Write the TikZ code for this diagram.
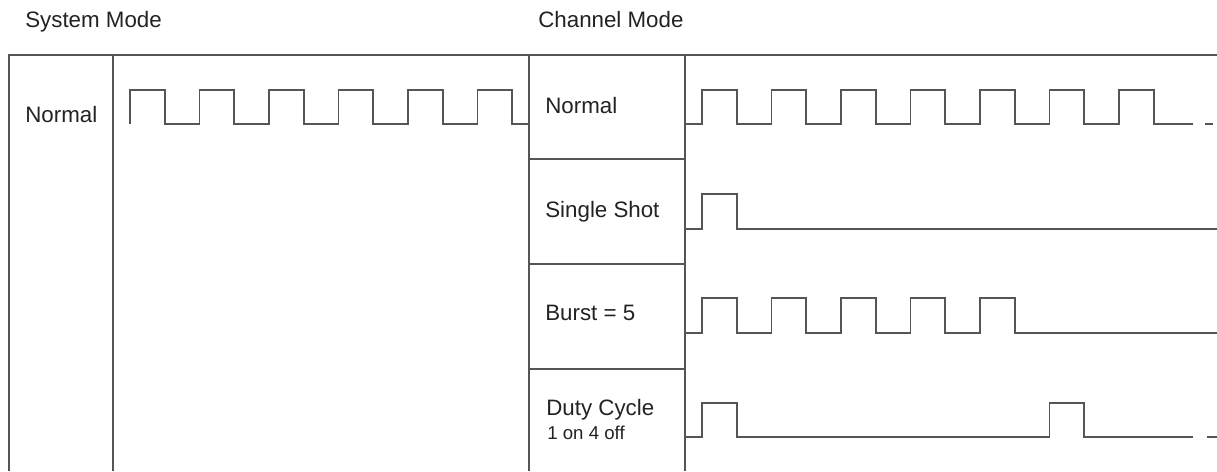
\documentclass[tikz,border=0pt]{standalone}
\usepackage{fontspec}
\setmainfont{Liberation Sans}
\usetikzlibrary{positioning}
\definecolor{linegray}{HTML}{555555}
\definecolor{textgray}{HTML}{222222}

\begin{document}
\begin{tikzpicture}[x=0.02cm,y=-0.02cm,
  grid/.style={linegray,line width=1.1pt},
  trace/.style={linegray,line width=1.1pt,line join=miter},
  lbl/.style={anchor=base west,inner sep=0pt,textgray,font=\fontsize{12.7pt}{15pt}\selectfont},
  sublbl/.style={anchor=base west,inner sep=0pt,textgray,font=\fontsize{10.6pt}{12pt}\selectfont}]
\useasboundingbox (0,0) rectangle (1217,471);
% headings
\node[lbl] (sysHead) at (25,27) {System Mode};
\node[lbl] (chHead) at (538,27) {Channel Mode};
% table frame
\draw[grid] (9,471) -- (9,55) -- (1217,55);
\draw[grid] (113,55) -- (113,471);
\draw[grid] (529,55) -- (529,471);
\draw[grid] (685,55) -- (685,471);
\foreach \y in {159,264,369}
  \draw[grid] (529,\y) -- (685,\y);
% row labels
\node[lbl] (sysNormal) at (25,122) {Normal};
\node[lbl] (chNormal) at (545,113) {Normal};
\node[lbl] (chSingle) at (545,217) {Single Shot};
\node[lbl] (chBurst) at (545,320) {Burst = 5};
\node[lbl] (chDuty) at (546,415) {Duty Cycle};
\node[sublbl] (chDutySub) at (547,439) {1 on 4 off};
% system mode: normal
\draw[trace] (130,124) \foreach \k in {0,...,4}
  { -- ++(0,-34) -- ++(34.7,0) -- ++(0,34) -- ++(34.8,0)}
  -- ++(0,-34) -- ++(34.7,0) -- ++(0,34) -- (529,124);
% channel mode: normal
\draw[trace] (685,124) -- (702,124) \foreach \k in {0,...,6}
  { -- ++(0,-34) -- ++(34.7,0) -- ++(0,34) -- ++(34.8,0)} -- (1193,124);
\draw[trace] (1205,124) -- (1213,124);
% single shot
\draw[trace] (685,229) -- (702,229) -- ++(0,-35) -- ++(34.7,0) -- ++(0,35) -- (1217,229);
% burst = 5
\draw[trace] (685,333) -- (702,333) \foreach \k in {0,...,4}
  { -- ++(0,-35) -- ++(34.7,0) -- ++(0,35) -- ++(34.8,0)} -- (1217,333);
% duty cycle, 1 on 4 off
\draw[trace] (685,437) -- (702,437) -- ++(0,-34) -- ++(34.7,0) -- ++(0,34)
  -- (1049.5,437) -- ++(0,-34) -- ++(34.7,0) -- ++(0,34) -- (1193,437);
\draw[trace] (1207,437) -- (1217,437);
\end{tikzpicture}
\end{document}
